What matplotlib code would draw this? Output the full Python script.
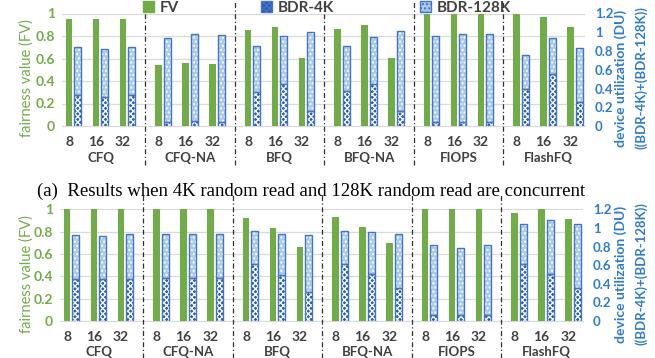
import matplotlib
matplotlib.use('Agg')
import matplotlib.pyplot as plt
import matplotlib.transforms as mtrans
from matplotlib.patches import Patch
import numpy as np

categories = ['CFQ', 'CFQ-NA', 'BFQ', 'BFQ-NA', 'FIOPS', 'FlashFQ']
depths = ['8', '16', '32']

# (a) 4K random read + 128K random read
fv_a = [0.955, 0.95, 0.955, 0.546, 0.56, 0.552, 0.85, 0.884, 0.606,
        0.86, 0.90, 0.606, 1.0, 1.0, 1.0, 0.997, 0.967, 0.884]
bdr4k_a = [0.33, 0.31, 0.33, 0.043, 0.054, 0.047, 0.366, 0.448, 0.16,
           0.373, 0.448, 0.16, 0.047, 0.047, 0.047, 0.394, 0.556, 0.258]
bdr128k_a = [0.51, 0.51, 0.51, 0.897, 0.926, 0.928, 0.491, 0.512, 0.847,
             0.484, 0.502, 0.85, 0.913, 0.933, 0.933, 0.366, 0.384, 0.577]

# (b)
fv_b = [1.0, 1.0, 1.0, 1.0, 1.0, 1.0, 0.925, 0.83, 0.665,
        0.934, 0.838, 0.695, 1.0, 1.0, 1.0, 0.97, 1.0, 0.913]
bdr4k_b = [0.448, 0.448, 0.45, 0.462, 0.462, 0.462, 0.61, 0.49, 0.31,
           0.607, 0.51, 0.35, 0.061, 0.061, 0.061, 0.607, 0.51, 0.35]
bdr128k_b = [0.472, 0.466, 0.48, 0.478, 0.478, 0.478, 0.358, 0.45, 0.615,
             0.36, 0.449, 0.58, 0.753, 0.719, 0.753, 0.432, 0.575, 0.689]

caption_a = '(a)  Results when 4K random read and 128K random read are concurrent'
legend_labels = ['FV', 'BDR-4K', 'BDR-128K']

GREEN = '#70AD47'
BLUE_TXT = '#2E7BCF'
EDGE = '#4472C4'
DARK = '#1F5BC0'
LIGHT = '#A9CBEB'
GRAY_TXT = '#404040'
GRID = '#D9D9D9'

plt.rcParams['font.family'] = ['Lato', 'DejaVu Sans']
plt.rcParams['hatch.linewidth'] = 1.0

W, H = 655, 358
fig = plt.figure(figsize=(W / 100, H / 100), dpi=100)


def axes_px(l, t, r, b):
    return fig.add_axes([l / W, 1 - b / H, (r - l) / W, (b - t) / H])


group_step = 3.315
pos = np.array([g * group_step + i for g in range(6) for i in range(3)])
xlim = (-0.43, 18.94)
fv_off, fv_w = -0.17, 0.23
st_off, st_w = 0.15, 0.26


def draw(ax, fv, b4, b128, sep_ymin, sep_ymax):
    ax2 = ax.twinx()
    ax.set_zorder(1)
    ax2.set_zorder(2)
    ax.bar(pos + fv_off, fv, width=fv_w, color=GREEN, zorder=3)
    ax2.bar(pos + st_off, b4, width=st_w, facecolor=DARK, edgecolor='white',
            hatch='xxxxxx', linewidth=0, zorder=3)
    ax2.bar(pos + st_off, b4, width=st_w, fill=False, edgecolor=EDGE,
            linewidth=1.0, zorder=4)
    ax2.bar(pos + st_off, b128, bottom=b4, width=st_w, facecolor=LIGHT,
            edgecolor='white', hatch='....', linewidth=0, zorder=3)
    ax2.bar(pos + st_off, b128, bottom=b4, width=st_w, fill=False,
            edgecolor=EDGE, linewidth=1.0, zorder=4)

    ax.set_xlim(xlim)
    ax2.set_xlim(xlim)
    ax.set_ylim(0, 1)
    ax2.set_ylim(0, 1.2)
    lt = np.round(np.arange(0, 1.01, 0.2), 1)
    ax.set_yticks(lt)
    ax.set_yticklabels([f'{v:g}' for v in lt], color=GREEN, fontsize=10,
                       fontweight='bold')
    rt = np.round(np.arange(0, 1.21, 0.2), 1)
    ax2.set_yticks(rt)
    ax2.set_yticklabels([f'{v:g}' for v in rt], color=BLUE_TXT, fontsize=9.5,
                        fontweight='bold')
    ax.grid(axis='y', color=GRID, linewidth=0.9, zorder=0)
    ax.set_axisbelow(True)
    for a in (ax, ax2):
        for s in a.spines.values():
            s.set_visible(False)
        a.tick_params(length=0)
    ax.spines['bottom'].set_visible(True)
    ax.spines['bottom'].set_color(GRID)
    ax.tick_params(axis='y', pad=5)
    ax2.tick_params(axis='y', pad=7)
    ax.set_xticks(pos + fv_off)
    ax.set_xticklabels(depths * len(categories), fontsize=10, color=GRAY_TXT,
                       fontweight='bold')
    ax.tick_params(axis='x', pad=7)
    tr = mtrans.blended_transform_factory(ax.transData, ax.transAxes)
    for g, name in enumerate(categories):
        ax.text(pos[g * 3 + 1], -0.28, name, transform=tr, ha='center',
                va='center', fontsize=9.5, color=GRAY_TXT, fontweight='bold')
    for g in range(1, len(categories)):
        xs = (pos[g * 3 - 1] + st_off + st_w / 2 + pos[g * 3] + fv_off - fv_w / 2) / 2
        ax.axvline(xs, ymin=sep_ymin, ymax=sep_ymax, clip_on=False,
                   color='#303030', linewidth=0.9, linestyle=(0, (4, 2, 1, 2)),
                   zorder=5)
    return ax2


ax_a = axes_px(62, 13.5, 585, 126)
draw(ax_a, fv_a, bdr4k_a, bdr128k_a, -0.35, 1.12)
ax_b = axes_px(60, 209.3, 583, 321)
draw(ax_b, fv_b, bdr4k_b, bdr128k_b, -0.33, 1.145)

for yc in (78, 274):
    fig.text(27 / W, 1 - yc / H, 'fairness value (FV)', rotation=90,
             ha='center', va='center', fontsize=10.5, color=GREEN)
    fig.text(621 / W, 1 - yc / H, 'device utilization (DU)', rotation=90,
             ha='center', va='center', fontsize=10, color=BLUE_TXT,
             fontweight='bold')
    fig.text(641 / W, 1 - yc / H, '((BDR-4K)+(BDR-128K))', rotation=90,
             ha='center', va='center', fontsize=9.5, color=BLUE_TXT,
             fontweight='bold')

fig.text(311 / W, 1 - 191 / H, caption_a, ha='center', va='center',
         fontsize=13.5, family='Liberation Serif', color='black')

handles = [Patch(facecolor=GREEN, edgecolor=GREEN),
           Patch(facecolor=DARK, edgecolor=EDGE, hatch='xxxxxx'),
           Patch(facecolor=LIGHT, edgecolor=EDGE, hatch='....')]
legend_x = [143, 261, 420]
for h, lab, lx in zip(handles, legend_labels, legend_x):
    leg = fig.legend(handles=[h], labels=[lab], loc='center left',
                     bbox_to_anchor=(lx / W, 1 - 8 / H), frameon=False,
                     fontsize=11, handlelength=0.7, handleheight=0.7,
                     handletextpad=0.4, borderpad=0, borderaxespad=0)
    for t in leg.get_texts():
        t.set_color(GRAY_TXT)
        t.set_fontweight('bold')

fig.savefig('out.png', dpi=100)
